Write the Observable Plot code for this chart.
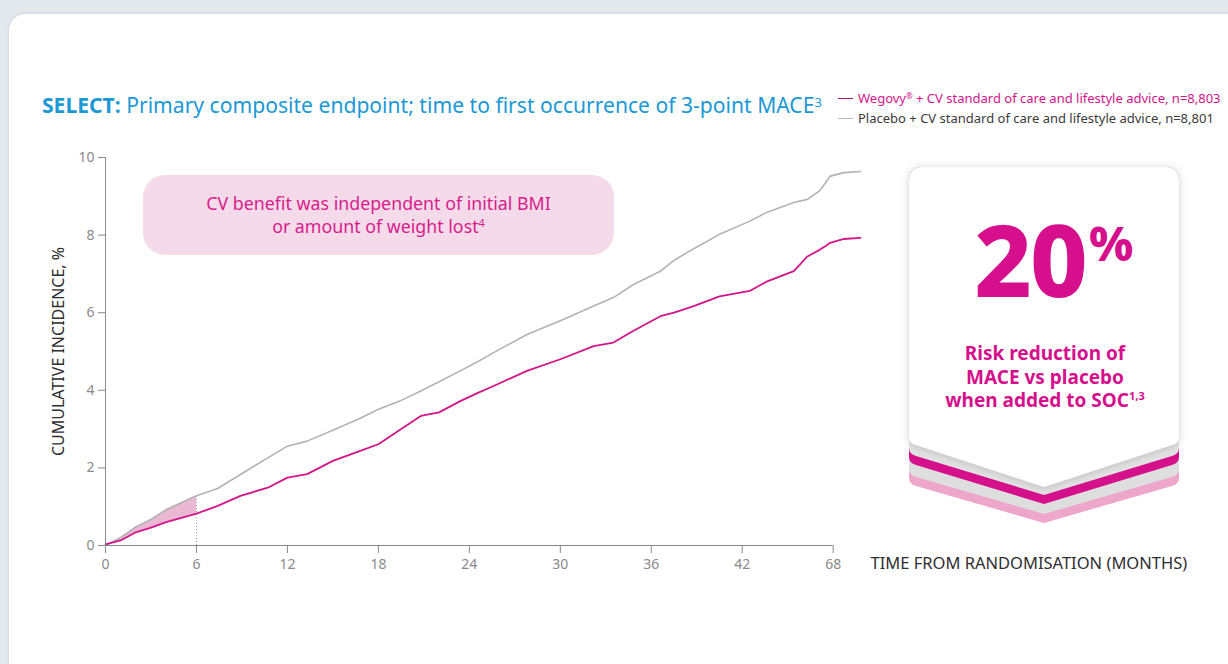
<!DOCTYPE html>
<html><head><meta charset="utf-8">
<script src="https://cdn.jsdelivr.net/npm/d3@7"></script>
<script src="https://cdn.jsdelivr.net/npm/@observablehq/plot@0.6"></script>
<style>
html,body{margin:0;padding:0;width:1228px;height:664px;overflow:hidden;background:#e3e8ec;font-family:"Noto Sans",sans-serif;}
#card{position:absolute;left:9px;top:14px;width:1250px;height:700px;background:#fff;border-radius:16px;box-shadow:0 0 3px rgba(110,130,150,.3);}
#chart{position:absolute;left:0;top:0;}
#title{position:absolute;left:42px;top:93px;font-size:21.1px;line-height:24px;color:#1b98d5;white-space:nowrap;}
#title b{font-weight:700;}
#title sup{font-size:13px;vertical-align:top;position:relative;top:-3px;}
#legend{position:absolute;left:838px;top:88px;font-size:13px;line-height:20px;white-space:nowrap;}
#legend .sw{display:inline-block;width:15px;height:1.5px;vertical-align:middle;margin-right:5px;position:relative;top:-1px;}
#legend sup{font-size:8px;vertical-align:top;position:relative;top:-2px;}
#callout{position:absolute;left:143px;top:175px;width:471px;height:80px;background:#f5dbe9;border-radius:22px;display:flex;align-items:center;justify-content:center;text-align:center;color:#d81b8c;font-size:17.8px;line-height:23px;}
#callout sup{font-size:11px;vertical-align:top;position:relative;top:-4px;}
#badge{position:absolute;left:0;top:0;pointer-events:none;}
</style></head>
<body>
<div id="card"></div>
<div id="chart"></div>
<div id="title"><b>SELECT:</b> Primary composite endpoint; time to first occurrence of 3-point MACE<sup>3</sup></div>
<div id="legend">
  <div style="color:#d2158a"><span class="sw" style="background:#b0136f"></span>Wegovy<sup>®</sup> + CV standard of care and lifestyle advice, n=8,803</div>
  <div style="color:#3a3a3a"><span class="sw" style="background:#b8b8b8"></span>Placebo + CV standard of care and lifestyle advice, n=8,801</div>
</div>
<div id="callout"><div>CV benefit was independent of initial BMI<br>or amount of weight lost<sup>4</sup></div></div>
<svg id="badge" width="1228" height="664"></svg>
<script>
// ---- data (months on the plotted time axis; the last tick is labelled 68) ----
const months  = [0, 1, 2, 3, 4, 5, 6, 7.4, 8.9, 10.7, 12, 13.3, 15, 16.8, 18, 19.5, 20.8, 22, 23.4, 24.6, 25.6, 27.8, 30, 32.2, 33.5, 34.8, 36.6, 37.5, 38.8, 40.5, 42.5, 43.6, 45.4, 46.3, 47.1, 47.5, 47.8, 48.7, 49.8];
const placebo = [0, 0.2, 0.48, 0.67, 0.92, 1.1, 1.28, 1.47, 1.83, 2.26, 2.56, 2.69, 2.97, 3.28, 3.51, 3.74, 3.98, 4.22, 4.5, 4.75, 4.97, 5.44, 5.79, 6.17, 6.39, 6.72, 7.07, 7.35, 7.65, 8.02, 8.36, 8.58, 8.84, 8.92, 9.14, 9.35, 9.52, 9.61, 9.64];
const wegovy  = [0.03, 0.13, 0.34, 0.46, 0.6, 0.71, 0.82, 1.02, 1.28, 1.49, 1.75, 1.84, 2.18, 2.44, 2.61, 3.0, 3.34, 3.43, 3.72, 3.94, 4.11, 4.5, 4.8, 5.14, 5.23, 5.53, 5.91, 6.0, 6.17, 6.42, 6.56, 6.8, 7.07, 7.45, 7.62, 7.72, 7.8, 7.9, 7.93];
const xTicks = [0, 6, 12, 18, 24, 30, 36, 42, 48];
const xTickLabels = ["0", "6", "12", "18", "24", "30", "36", "42", "68"];
const yTicks = [0, 2, 4, 6, 8, 10];
const shadeUntil = 6;

const rows = months.map((m, i) => ({month: m, wegovy: wegovy[i], placebo: placebo[i]}));
const early = rows.filter(d => d.month <= shadeUntil);
const atShade = rows.filter(d => d.month === shadeUntil);

const chart = Plot.plot({
  width: 1228, height: 590,
  marginLeft: 105, marginRight: 368, marginTop: 157, marginBottom: 45,
  x: {domain: [0, 49.8]},
  y: {domain: [0, 10]},
  style: {fontFamily: '"Noto Sans", sans-serif', fontSize: "14px", color: "#8a8a8a", background: "transparent", overflow: "visible"},
  marks: [
    Plot.areaY(early, {x: "month", y1: "wegovy", y2: "placebo", fill: "#ebb8d4"}),
    Plot.ruleX(atShade, {x: "month", y1: 0, y2: "placebo", stroke: "#999", strokeWidth: 1, strokeDasharray: "1,2"}),
    Plot.line(rows, {x: "month", y: "placebo", stroke: "#b3b3b3", strokeWidth: 1.6}),
    Plot.line(rows, {x: "month", y: "wegovy", stroke: "#d2158a", strokeWidth: 1.8}),
    Plot.ruleY([0], {x1: 0, x2: xTicks[xTicks.length - 1], stroke: "#8a8a8a"}),
    Plot.ruleX([0], {y1: 0, y2: 10, stroke: "#8a8a8a"}),
    Plot.axisX({ticks: xTicks, tickFormat: d => xTickLabels[xTicks.indexOf(d)], tickSize: 8, tickPadding: 6, stroke: "#8a8a8a", fontSize: 14, label: null}),
    Plot.axisY({ticks: yTicks, tickSize: 7, tickPadding: 4, stroke: "#8a8a8a", fontSize: 14, label: null}),
    Plot.text(["CUMULATIVE INCIDENCE, %"], {frameAnchor: "left", textAnchor: "middle", dx: -47, rotate: -90, fontSize: 16, fill: "#2e2e2e"}),
    Plot.text(["TIME FROM RANDOMISATION (MONTHS)"], {frameAnchor: "bottom-right", textAnchor: "start", dx: 10, dy: 23, fontSize: 16.5, fill: "#2e2e2e"})
  ]
});
document.getElementById("chart").appendChild(chart);

// ---- badge decoration ----
const svg = d3.select("#badge");
const defs = svg.append("defs");
const f = defs.append("filter").attr("id", "sh").attr("x", "-20%").attr("y", "-20%").attr("width", "140%").attr("height", "140%");
f.append("feDropShadow").attr("dx", 0).attr("dy", 1).attr("stdDeviation", 4).attr("flood-color", "#000").attr("flood-opacity", 0.18);
const L = 909, R = 1179, C = 1044, T = 167, r = 14;
const chev = (bs, bc) => `M${L},${T + r} Q${L},${T} ${L + r},${T} L${R - r},${T} Q${R},${T} ${R},${T + r} L${R},${bs - 6} Q${R},${bs} ${R - 7},${bs + 2} L${C},${bc} L${L + 7},${bs + 2} Q${L},${bs} ${L},${bs - 6} Z`;
const layers = [[484, 523, "#eea6cb"], [475, 514, "#dedede"], [463, 504, "#d4118b"], [454, 495, "#e3e3e3"]];
layers.forEach(([bs, bc, c]) => svg.append("path").attr("d", chev(bs, bc)).attr("fill", c));
svg.append("path").attr("d", chev(443, 487)).attr("fill", "#fff").attr("filter", "url(#sh)");
const g = svg.append("g").attr("fill", "#d60f8c").attr("font-family", '"Noto Sans", sans-serif').attr("font-weight", 800);
g.append("text").attr("x", 1030).attr("y", 297).attr("text-anchor", "middle").attr("font-size", 100).attr("letter-spacing", -2).text("20");
g.append("text").attr("x", 1089).attr("y", 261).attr("font-size", 48).text("%");
const lines = ["Risk reduction of", "MACE vs placebo", "when added to SOC"];
lines.forEach((t, i) => {
  const tx = g.append("text").attr("x", 1045).attr("y", 360 + i * 23.5).attr("text-anchor", "middle").attr("font-size", 19).attr("font-weight", 700).text(t);
  if (i === 2) tx.append("tspan").attr("font-size", 11).attr("dy", -7).text("1,3");
});
</script>
</body></html>
